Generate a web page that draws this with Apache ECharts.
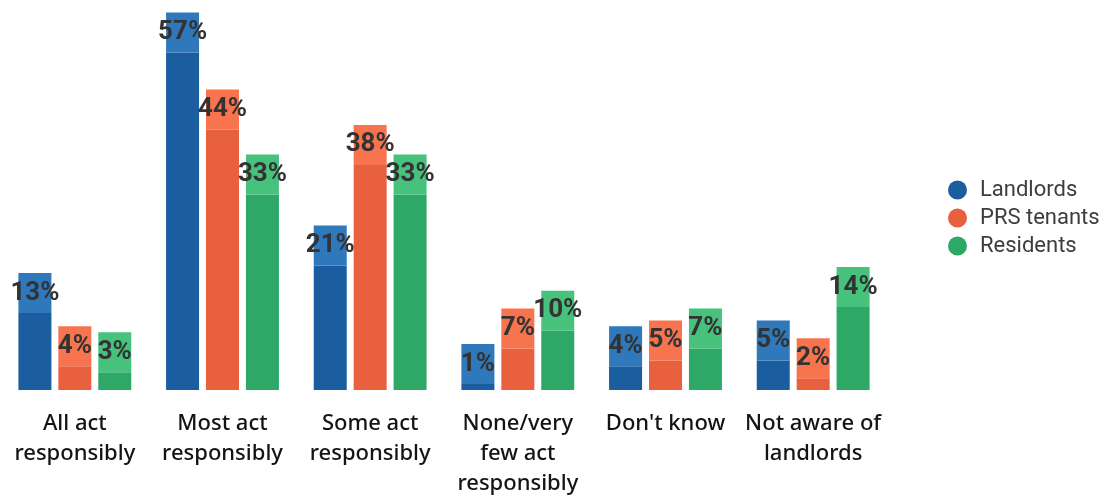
<!DOCTYPE html>
<html>
<head>
<meta charset="utf-8">
<script src="https://cdn.jsdelivr.net/npm/echarts@6/dist/echarts.min.js"></script>
<style>
  html, body { margin: 0; padding: 0; background: #ffffff; }
  #chart { width: 1112px; height: 501px; }
</style>
</head>
<body>
<div id="chart"></div>
<script>
// Survey answers: how responsibly do landlords act?
const categories = [
  'All act\nresponsibly',
  'Most act\nresponsibly',
  'Some act\nresponsibly',
  'None/very\nfew act\nresponsibly',
  "Don't know",
  'Not aware of\nlandlords'
];
const seriesNames = ['Landlords', 'PRS tenants', 'Residents'];
const landlords = [13, 57, 21, 1, 4, 5];
const prsTenants = [4, 44, 38, 7, 5, 2];
const residents = [3, 33, 33, 10, 7, 14];

// bar body colour and the lighter label cap that sits on top of each bar
const palette = [
  { body: '#1b5e9f', cap: '#2e78bb' },
  { body: '#e9603f', cap: '#f7744f' },
  { body: '#2ea866', cap: '#46c27c' }
];

const BAR_W = 33;

function makeSeries(name, values, colors) {
  return {
    name: name,
    type: 'bar',
    data: values,
    barWidth: BAR_W,
    barGap: '21%',
    itemStyle: { color: colors.body },
    emphasis: { disabled: true },
    label: {
      show: true,
      position: 'top',
      distance: 0,
      formatter: '{c}%',
      width: BAR_W,
      height: 40,
      lineHeight: 40,
      overflow: 'none',
      backgroundColor: colors.cap,
      color: '#333333',
      fontFamily: 'Roboto',
      fontWeight: 'bold',
      fontSize: 26
    }
  };
}

const chart = echarts.init(document.getElementById('chart'));
chart.setOption({
  animation: false,
  backgroundColor: '#ffffff',
  grid: { left: 1, right: 225, top: 5, bottom: 111, containLabel: false },
  legend: {
    orient: 'vertical',
    left: 943,
    top: 174,
    icon: 'circle',
    itemWidth: 19,
    itemHeight: 19,
    itemGap: 6,
    data: seriesNames,
    textStyle: {
      fontFamily: 'Roboto',
      fontSize: 22,
      lineHeight: 20,
      color: '#3d3d3d',
      padding: [0, 0, 0, 8]
    }
  },
  xAxis: {
    type: 'category',
    data: categories,
    axisLine: { show: false },
    axisTick: { show: false },
    axisLabel: {
      interval: 0,
      margin: 19,
      fontFamily: 'Noto Sans',
      fontSize: 22,
      fontWeight: 500,
      lineHeight: 30,
      color: '#141414'
    }
  },
  yAxis: {
    type: 'value',
    min: 0,
    max: 65,
    show: false,
    splitLine: { show: false }
  },
  series: [
    makeSeries(seriesNames[0], landlords, palette[0]),
    makeSeries(seriesNames[1], prsTenants, palette[1]),
    makeSeries(seriesNames[2], residents, palette[2])
  ]
});
</script>
</body>
</html>
